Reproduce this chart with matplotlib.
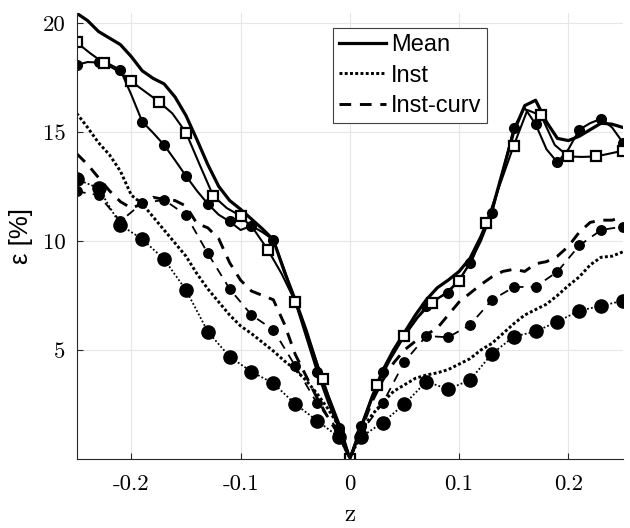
import numpy as np
import matplotlib
matplotlib.use('Agg')
import matplotlib.pyplot as plt

# z positions: fine grid, square grid, circle grid (odd hundredths + the centre)
z_fine = np.linspace(-0.25, 0.25, 51)
z_sq = np.linspace(-0.25, 0.25, 41)
z_circ = np.concatenate([np.linspace(-0.25, -0.01, 13), [0.0], np.linspace(0.01, 0.25, 13)])

# solid group
mean_thick = [20.44, 20.1, 19.6, 19.3, 19.0, 18.45, 17.8, 17.45, 17.2, 16.6, 15.75, 14.65, 13.5,
              12.5, 11.85, 11.45, 11.0, 10.55, 10.05, 8.6, 7.3, 5.9, 4.3, 2.9, 1.6,
              0.0,
              1.4, 2.8, 4.05, 5.0, 5.8, 6.6, 7.3, 7.85, 8.2, 8.6, 9.2, 10.2, 11.4,
              13.2, 15.0, 16.2, 16.45, 15.45, 14.7, 14.6, 14.8, 15.1, 15.4, 15.35, 15.2]
mean_circ = [18.07, 18.2, 18.18, 18.1, 17.84, 16.7, 15.47, 14.95, 14.4, 13.7, 12.98, 12.3, 11.7,
             11.2, 10.89, 10.5, 10.69, 10.4, 10.05, 8.7, 7.2, 5.6, 4.0, 2.6, 1.4,
             0.0,
             1.5, 2.8, 4.0, 4.9, 5.65, 6.4, 7.0, 7.35, 7.63, 8.2, 8.98, 10.0, 11.27,
             13.2, 15.17, 16.1, 15.35, 14.2, 13.6, 14.2, 15.1, 15.4, 15.6, 15.2, 14.5]
mean_sq = [19.1, 18.6, 18.15, 17.8, 17.31, 16.85, 16.39, 15.85, 14.97, 13.5, 12.06, 11.5, 11.15,
           10.5, 9.59, 8.5, 7.22, 5.5, 3.67, 1.8,
           0.0,
           1.7, 3.39, 4.6, 5.64, 6.5, 7.17, 7.6, 8.18, 9.2, 10.84, 12.6, 14.37,
           16.0, 15.75, 14.4, 13.87, 13.85, 13.87, 14.0, 14.14]

# dotted group
inst_thick = [15.85, 15.2, 14.5, 13.95, 13.2, 12.1, 11.7, 11.1, 10.5, 9.9, 9.3, 8.5, 7.8,
              7.2, 6.6, 6.1, 5.75, 5.35, 4.95, 4.5, 4.1, 3.6, 3.0, 2.3, 1.5,
              0.0,
              1.3, 2.0, 2.6, 3.1, 3.4, 3.7, 3.85, 3.95, 4.1, 4.35, 4.6, 5.0, 5.3,
              5.75, 6.2, 6.6, 6.85, 7.1, 7.5, 7.95, 8.35, 8.9, 9.25, 9.3, 9.5]
inst_circ = [12.83, 12.42, 10.73, 10.08, 9.16, 7.75, 5.84, 4.69, 4.0, 3.47, 2.52, 1.76, 1.0,
             0.0,
             1.0, 1.67, 2.52, 3.55, 3.2, 3.62, 4.82, 5.61, 5.85, 6.3, 6.8, 7.02, 7.26]

# dashed group
curv_thick = [14.0, 13.5, 12.9, 12.3, 11.8, 11.5, 11.7, 12.0, 11.9, 11.85, 11.6, 10.8, 10.6,
              10.1, 9.0, 8.2, 7.7, 7.5, 7.3, 6.2, 4.8, 3.8, 2.8, 1.9, 1.1,
              0.0,
              1.3, 2.6, 3.6, 4.4, 5.0, 5.4, 5.7, 6.0, 6.6, 7.2, 7.6, 8.0, 8.35,
              8.6, 8.7, 8.6, 8.95, 9.05, 9.3, 9.75, 10.4, 10.85, 10.95, 10.95, 11.1]
curv_circ = [12.27, 12.1, 10.9, 11.73, 11.88, 11.19, 9.43, 7.8, 6.6, 5.92, 4.27, 2.55, 1.3,
             0.0,
             1.2, 2.55, 4.46, 5.64, 5.58, 6.15, 7.29, 7.88, 7.9, 8.59, 9.79, 10.5, 10.66]

xticks = [-0.2, -0.1, 0, 0.1, 0.2]
xtick_labels = ['-0.2', '-0.1', '0', '0.1', '0.2']
yticks = [5, 10, 15, 20]
ytick_labels = ['5', '10', '15', '20']

fig = plt.figure(figsize=(6.3, 5.28), dpi=100)
ax = fig.add_axes([0.1217, 0.1307, 0.8672, 0.8447])

circ_marks = [i for i in range(len(z_circ)) if i != 13]

ax.plot(z_fine, mean_thick, color='k', lw=2.3, label='Mean')
ax.plot(z_fine, mean_circ, color='k', lw=1.5, marker='o', ms=7, markevery=2)
ax.plot(z_sq, mean_sq, color='k', lw=1.5, marker='s', ms=7, mfc='white', mew=1.6, markevery=2)

ax.plot(z_fine, inst_thick, color='k', lw=2.1, ls=(0, (1, 0.8)), label='Inst')
ax.plot(z_circ, inst_circ, color='k', lw=1.3, ls=(0, (1, 1.2)), marker='o', ms=9.5,
        markevery=circ_marks)

ax.plot(z_fine, curv_thick, color='k', lw=2.1, ls=(0, (4, 3)), label='Inst-curv')
ax.plot(z_circ, curv_circ, color='k', lw=1.3, ls=(0, (5, 4)), marker='o', ms=6.8,
        markevery=circ_marks)

ax.set_xlim(-0.25, 0.25)
ax.set_ylim(0, 20.45)
ax.set_xticks(xticks)
ax.set_xticklabels(xtick_labels, family='cmr10', fontsize=16.5)
ax.set_yticks(yticks)
ax.set_yticklabels(ytick_labels, family='cmr10', fontsize=16.5)
ax.tick_params(direction='in', length=4, width=0.8, color='#262626')
ax.tick_params(axis='x', pad=11)
ax.tick_params(axis='y', pad=8)
ax.grid(True, color='#e6e6e6', lw=0.8)
ax.set_axisbelow(True)

for side in ['top', 'right']:
    ax.spines[side].set_visible(False)
for side in ['left', 'bottom']:
    ax.spines[side].set_color('#262626')
    ax.spines[side].set_linewidth(0.8)

ax.set_xlabel('z', family='cmr10', fontsize=18, labelpad=7)
ax.set_ylabel('ε [%]', family='Liberation Sans', fontsize=18.5, labelpad=7)

leg = ax.legend(loc='upper left', bbox_to_anchor=(0.469, 0.966), borderaxespad=0,
                prop={'family': 'Liberation Sans', 'size': 17}, handlelength=2.0,
                handletextpad=0.2, labelspacing=0.36, borderpad=0.25, fancybox=False,
                framealpha=1, edgecolor='#404040')
leg.get_frame().set_linewidth(0.8)

fig.savefig('out.png', dpi=100)
